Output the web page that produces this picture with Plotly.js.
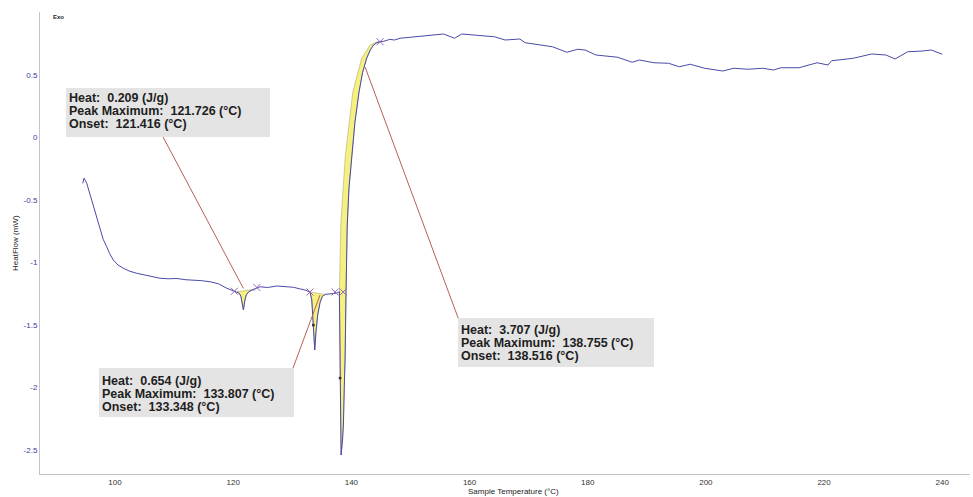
<!DOCTYPE html>
<html>
<head>
<meta charset="utf-8">
<script src="https://cdn.plot.ly/plotly-3.0.1.min.js"></script>
<style>html,body{margin:0;padding:0;background:#fff;}#chart{width:973px;height:497px;}</style>
</head>
<body>
<div id="chart"></div>
<script>
// ---- data ----
var tempC = [94.53,94.75,95.21,95.8,96.33,96.9,97.46,98.0,98.59,99.1,99.71,100.5,101.41,102.5,103.67,105.0,106.2,107.62,109.0,110.5,112.0,113.26,114.6,116.08,117.5,118.91,119.8,120.6,121.0,121.3,121.5,121.73,121.95,122.2,122.6,123.4,124.55,125.8,127.37,128.8,130.19,131.2,132.17,133.0,133.3,133.55,133.8,134.0,134.3,134.7,135.1,135.6,136.3,137.0,137.5,137.97,138.08,138.18,138.26,138.5,138.65,138.8,138.94,139.1,139.3,139.6,140.0,140.6,141.3,141.9,142.6,143.2,143.75,144.3,144.86,145.5,146.5,147.3,148.25,151.94,155.61,157.46,158.68,164.21,166.04,168.49,169.43,174.03,176.49,178.31,179.55,181.39,185.07,187.52,188.76,191.21,193.67,195.5,197.34,199.8,202.86,204.71,207.16,209.62,211.46,212.68,215.76,218.83,220.67,221.28,223.13,224.95,228.04,230.49,232.01,234.16,236.62,238.16,240.0];
var heatFlow = [-0.366,-0.325,-0.366,-0.46,-0.554,-0.65,-0.74,-0.815,-0.874,-0.93,-0.98,-1.02,-1.046,-1.07,-1.086,-1.10,-1.115,-1.126,-1.13,-1.128,-1.138,-1.14,-1.145,-1.154,-1.17,-1.206,-1.22,-1.234,-1.245,-1.27,-1.32,-1.38,-1.31,-1.26,-1.235,-1.215,-1.194,-1.20,-1.188,-1.195,-1.198,-1.21,-1.22,-1.236,-1.30,-1.50,-1.70,-1.56,-1.42,-1.32,-1.27,-1.255,-1.25,-1.248,-1.245,-1.234,-1.8,-2.3,-2.54,-2.42,-2.30,-2.0,-1.764,-1.234,-0.70,-0.40,-0.164,0.12,0.366,0.52,0.636,0.70,0.74,0.758,0.766,0.77,0.785,0.78,0.794,0.812,0.828,0.794,0.828,0.806,0.78,0.788,0.758,0.726,0.682,0.706,0.70,0.66,0.642,0.602,0.62,0.598,0.594,0.566,0.586,0.554,0.532,0.554,0.546,0.554,0.54,0.558,0.558,0.598,0.58,0.614,0.626,0.634,0.668,0.66,0.628,0.686,0.692,0.70,0.666];

// integration baselines of the three peaks
var base1T = [120.6,123.4];
var base1V = [-1.234,-1.215];
var base2T = [133.0,135.6];
var base2V = [-1.236,-1.255];
var base3T = [137.97,138.21,138.94,140.24,141.76,143.17,144.3,144.86];
var base3V = [-1.234,-0.70,-0.164,0.366,0.636,0.74,0.766,0.766];

// limit markers and peak dots
var limitT = [120.2,124.0,133.0,137.24,138.6,144.86];
var limitV = [-1.23,-1.2,-1.236,-1.236,-1.236,0.766];
var dotT = [133.57,138.09];
var dotV = [-1.5,-1.924];

// peak results
var peakHeat = [0.209,0.654,3.707];
var peakMax = [121.726,133.807,138.755];
var peakOnset = [121.416,133.348,138.516];

// leader line ends: [box end T, box end V, peak end T, peak end V]
var leader1 = [108.13,0.004,121.72,-1.207];
var leader2 = [130.13,-1.844,134.7,-1.26];
var leader3 = [158.07,-1.444,142.32,0.564];

var xTicks = [100,120,140,160,180,200,220,240];
var yTicks = [-2.5,-2,-1.5,-1,-0.5,0,0.5];
var yTickText = ['-2.5','-2','-1.5','-1','-0.5','0','0.5'];

// ---- build ----
function peakFill(bT, bV) {
  var xs = [], ys = [];
  var a = bT[0], b = bT[bT.length-1];
  for (var i = 0; i < tempC.length; i++) {
    if (tempC[i] >= a && tempC[i] <= b) { xs.push(tempC[i]); ys.push(heatFlow[i]); }
  }
  for (var j = bT.length-1; j >= 0; j--) { xs.push(bT[j]); ys.push(bV[j]); }
  return {x: xs, y: ys, type: 'scatter', mode: 'lines', fill: 'toself',
          fillcolor: 'rgba(245,240,120,0.95)', line: {color: 'rgba(120,120,90,0.6)', width: 0.6},
          hoverinfo: 'skip', showlegend: false};
}

var traces = [
  peakFill(base1T, base1V),
  peakFill(base2T, base2V),
  peakFill(base3T, base3V),
  {x: tempC, y: heatFlow, type: 'scatter', mode: 'lines',
   line: {color: '#4a4aa8', width: 1}, showlegend: false},
  {x: limitT, y: limitV, type: 'scatter', mode: 'markers',
   marker: {symbol: 'x-thin-open', size: 7, line: {color: '#333355', width: 1}}, showlegend: false},
  {x: dotT, y: dotV, type: 'scatter', mode: 'markers',
   marker: {symbol: 'circle', size: 3, color: '#333333'}, showlegend: false}
];

var L = 40, R = 970, T = 12, B = 474;
function px(x) { return (x - L) / (R - L); }
function py(y) { return (B - y) / (B - T); }

function leaderShape(l) {
  return {type: 'line', xref: 'x', yref: 'y', x0: l[0], y0: l[1], x1: l[2], y1: l[3],
          line: {color: '#b8605a', width: 1}};
}

var FONT = 'Liberation Sans, Arial, sans-serif';
var shapes = [leaderShape(leader1), leaderShape(leader2), leaderShape(leader3)];
var annotations = [];

function box(i, left, top, w, h, off) {
  shapes.push({type: 'rect', xref: 'paper', yref: 'paper', x0: px(left), x1: px(left + w),
               y0: py(top + h), y1: py(top), fillcolor: '#e4e4e4', line: {width: 0}, layer: 'above'});
  var lines = ['Heat:\u00a0 ' + peakHeat[i].toFixed(3) + ' (J/g)',
               'Peak Maximum:\u00a0 ' + peakMax[i].toFixed(3) + ' (\u00b0C)',
               'Onset:\u00a0 ' + peakOnset[i].toFixed(3) + ' (\u00b0C)'];
  for (var k = 0; k < 3; k++) {
    annotations.push({xref: 'paper', yref: 'paper', x: px(left + 1), y: py(top + off + k * 13.2),
      xanchor: 'left', yanchor: 'middle', text: '<b>' + lines[k] + '</b>', showarrow: false,
      font: {family: FONT, size: 12.5, color: '#1e1e1e'}});
  }
}
box(0, 66, 88, 204, 49, 10);
box(1, 99, 368, 195, 49, 12.5);
box(2, 458, 318, 196, 49, 11.5);

annotations.push(
  {xref: 'paper', yref: 'paper', x: px(513), y: py(492), xanchor: 'center', yanchor: 'middle',
   text: 'Sample Temperature (\u00b0C)', showarrow: false, font: {family: FONT, size: 8, color: '#222'}},
  {xref: 'paper', yref: 'paper', x: px(15), y: py(243), xanchor: 'center', yanchor: 'middle',
   text: 'HeatFlow (mW)', textangle: -90, showarrow: false, font: {family: FONT, size: 8, color: '#222'}},
  {xref: 'paper', yref: 'paper', x: px(58), y: py(17), xanchor: 'center', yanchor: 'middle',
   text: '<b>Exo</b>', showarrow: false, font: {family: FONT, size: 6, color: '#222'}}
);

var layout = {
  width: 973, height: 497,
  margin: {l: L, r: 973 - R, t: T, b: 497 - B},
  paper_bgcolor: '#ffffff', plot_bgcolor: '#ffffff',
  showlegend: false,
  xaxis: {range: [87.3, 244.7], tickvals: xTicks, ticktext: xTicks.map(String),
          showgrid: false, zeroline: false, showline: true, linecolor: '#c4c4c4', linewidth: 1,
          ticks: '', tickfont: {family: FONT, size: 8, color: '#333333'}},
  yaxis: {range: [-2.692, 1.004], tickvals: yTicks, ticktext: yTickText,
          showgrid: false, zeroline: false, showline: true, linecolor: '#c4c4c4', linewidth: 1,
          ticks: '', tickfont: {family: FONT, size: 8, color: '#3a3aa6'}},
  shapes: shapes,
  annotations: annotations
};

Plotly.newPlot('chart', traces, layout, {staticPlot: true, displayModeBar: false});
</script>
</body>
</html>
